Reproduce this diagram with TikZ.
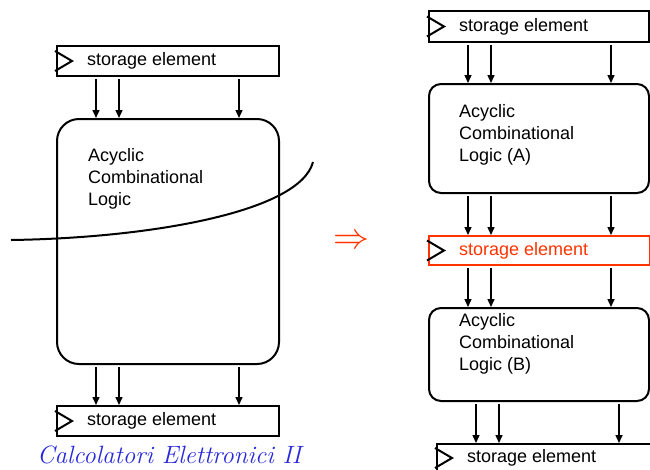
\documentclass[tikz,border=0pt]{standalone}
\usepackage{fix-cm}
\usepackage{graphicx}
\usepackage{fontspec}
\setsansfont{Liberation Sans}
\usetikzlibrary{arrows.meta,calc}
\definecolor{hot}{RGB}{255,51,0}
\definecolor{scriptblue}{RGB}{40,40,220}
\begin{document}
\begin{tikzpicture}[x=1pt,y=-1pt,
  box/.style={draw, line width=2pt, inner sep=0pt, anchor=north west},
  store/.style={box, minimum width=222pt, minimum height=30pt},
  logic/.style={box, rounded corners=#1, minimum width=222pt},
  txt/.style={font=\sffamily\fontsize{18}{22}\selectfont, inner sep=0pt, align=left, anchor=west},
  arr/.style={-{Triangle[length=8pt,width=7pt]}, line width=1.5pt, shorten <=2pt},
  clk/.style={line width=2pt}
]
\useasboundingbox (0,0) rectangle (650,469);
\clip (0,0) rectangle (650,469);

% ---------- left column ----------
\node[store] (s1) at (56,45) {};
\node[logic=22pt, minimum height=245pt] (L) at (56,118) {};
\node[store] (s2) at (56,405) {};

% ---------- right column ----------
\node[store, minimum width=220pt, minimum height=31pt] (r1) at (428,10) {};
\node[logic=12pt, minimum width=220pt, minimum height=109pt] (A) at (428,83) {};
\node[store, draw=hot, minimum width=221pt, minimum height=29pt] (rs) at (428,235) {};
\node[logic=12pt, minimum width=220pt, minimum height=93pt] (B) at (428,307) {};
\node[store, minimum width=240pt, minimum height=28pt] (r4) at (436,443) {};

% storage texts and clock marks
\foreach \s/\c in {s1/black, s2/black, r1/black, rs/hot, r4/black} {
  \node[txt, text=\c] (\s-t) at ([xshift=31pt]\s.west) {storage element};
  \draw[clk] ([yshift=10pt,xshift=-1pt]\s.west) -- ([xshift=16pt]\s.west) -- ([yshift=-10pt,xshift=-1pt]\s.west);
}

% logic texts
\node[txt] (Lt) at (88,179) {Acyclic\\Combinational\\Logic};
\node[txt] (At) at (459,135) {Acyclic\\Combinational\\Logic (A)};
\node[txt] (Bt) at (459,344) {Acyclic\\Combinational\\Logic (B)};

% arrows
\foreach \hi/\lo in {s1/L, L/s2, r1/A, A/rs, rs/B, B/r4} {
  \foreach \dx in {40,63,183} {
    \path ([xshift=\dx pt]\lo.north west) coordinate (tip);
    \draw[arr] (\hi.south -| tip) -- (tip);
  }
}

% cut line
\coordinate (c0) at (11,240);
\coordinate (c1) at (313,162);
\draw[line width=2pt] (c0) .. controls (150,238) and (300,212) .. (c1);

% transformation arrow
\node[text=hot, inner sep=0pt, font=\fontsize{36}{36}\selectfont] (imp) at (351,242) {$\Rightarrow$};

% footer
\node[text=scriptblue, inner sep=0pt, anchor=base west, font=\rmfamily\itshape\fontsize{25}{25}\selectfont] (foot) at (37,463) {Calcolatori Elettronici II};
\end{tikzpicture}
\end{document}
